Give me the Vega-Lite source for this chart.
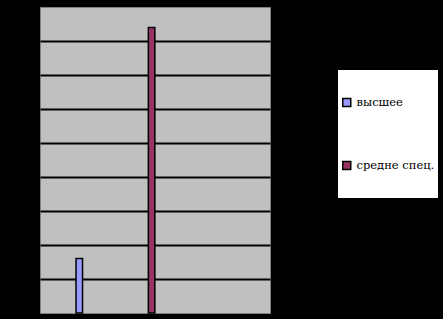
{
  "$schema": "https://vega.github.io/schema/vega-lite/v6.json",
  "width": 230,
  "height": 306,
  "autosize": {"type": "none"},
  "padding": {"left": 40, "top": 7, "right": 173, "bottom": 6},
  "background": "#000000",
  "config": {
    "view": {"fill": "#C0C0C0", "stroke": "#808080", "strokeWidth": 1}
  },
  "data": {
    "values": [
      {"cat": "высшее", "value": 16},
      {"cat": "средне спец.", "value": 84}
    ]
  },
  "mark": {"type": "bar", "size": 6.5, "stroke": "#000000", "strokeWidth": 1.5},
  "encoding": {
    "x": {
      "field": "cat",
      "type": "nominal",
      "axis": null,
      "scale": {"domain": ["высшее", "средне спец.", "_"], "paddingInner": 0, "paddingOuter": 0.09, "align": 0.24}
    },
    "y": {
      "field": "value",
      "type": "quantitative",
      "scale": {"domain": [0, 90], "nice": false},
      "axis": {
        "title": null,
        "labels": false,
        "ticks": false,
        "domain": false,
        "grid": true,
        "values": [10, 20, 30, 40, 50, 60, 70, 80],
        "gridColor": "#000000",
        "gridWidth": 2,
        "gridOpacity": 1
      }
    },
    "color": {
      "field": "cat",
      "type": "nominal",
      "scale": {"domain": ["высшее", "средне спец."], "range": ["#9999FF", "#993366"]},
      "legend": {
        "title": null,
        "orient": "none",
        "legendX": 298,
        "legendY": 63,
        "fillColor": "#FFFFFF",
        "padding": 3,
        "symbolType": "square",
        "symbolSize": 64,
        "symbolStrokeColor": "#000000",
        "symbolStrokeWidth": 1.5,
        "symbolOpacity": 1,
        "labelFont": "DejaVu Serif",
        "labelFontSize": 11.5,
        "labelColor": "#000000",
        "labelOffset": 4,
        "labelLimit": 200,
        "clipHeight": 59,
        "rowPadding": 4
      }
    }
  }
}
